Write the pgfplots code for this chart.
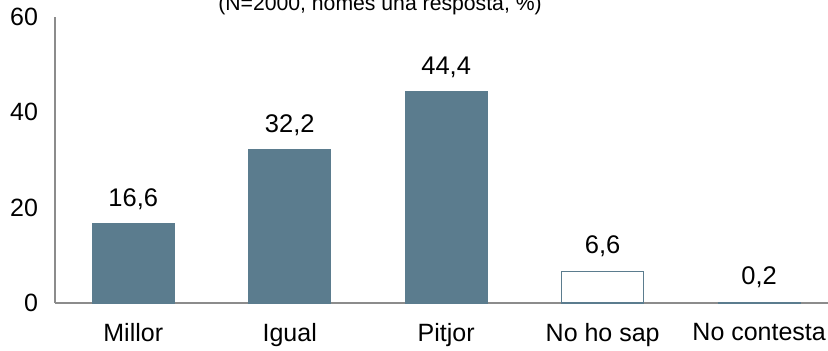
\documentclass[border=0pt]{standalone}
\usepackage{pgfplots}
\pgfplotsset{compat=1.18}
\usepackage{fontspec}
\setmainfont{Liberation Sans}
\definecolor{barc}{RGB}{91,124,142}
\definecolor{axc}{RGB}{140,140,140}
\begin{document}
\begin{tikzpicture}
\begin{axis}[
    scale only axis,
    width=386.5pt, height=143pt,
    xmin=-0.5, xmax=4.44,
    ymin=0, ymax=60,
    ytick={0,20,40,60},
    xtick={0,1,2,3,4},
    xticklabels={Millor,Igual,Pitjor,No ho sap,No contesta},
    axis x line*=bottom,
    axis y line*=left,
    axis line style={axc, line width=0.8pt},
    major tick length=0pt,
    tick label style={font=\fontsize{12.5}{14}\selectfont},
    yticklabel style={xshift=-5pt},
    xticklabel style={yshift=-6.5pt},
    /pgf/number format/assume math mode=true,
    ybar, bar width=41pt, bar shift=0pt,
    nodes near coords,
    nodes near coords style={font=\fontsize{12.75}{14}\selectfont, yshift=3.5pt,
      /pgf/number format/.cd, fixed, fixed zerofill, precision=1, use comma},
    clip=false,
]
\coordinate (o) at (rel axis cs:0,0);
\addplot[fill=barc, draw=barc] coordinates {(0,16.6) (1,32.2) (2,44.4)};
\addplot[fill=white, draw=barc, line width=0.8pt] coordinates {(3,6.6)};
\addplot[fill=barc, draw=barc] coordinates {(4,0.2)};
\end{axis}
\node[anchor=base, font=\fontsize{10.6}{12}\selectfont] at ([shift={(162.5pt,146pt)}]o) {(N=2000, només una resposta, \%)};
\pgfresetboundingbox
\useasboundingbox ([shift={(-27.5pt,-24pt)}]o) rectangle ++(414pt,175.5pt);
\end{tikzpicture}
\end{document}
